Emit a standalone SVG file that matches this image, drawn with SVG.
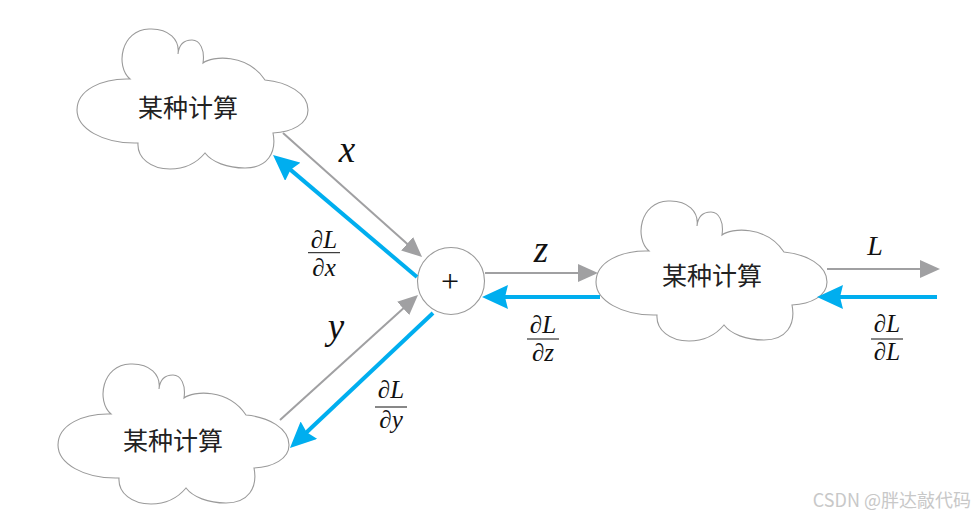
<svg xmlns="http://www.w3.org/2000/svg" xmlns:xlink="http://www.w3.org/1999/xlink" width="976" height="520" viewBox="0 0 976 520">
<style>
.cloud{fill:#fff;stroke:#9a9a9a;stroke-width:1.1}
.cjk{font-family:"Noto Sans CJK SC","Noto Sans CJK JP",sans-serif;font-size:25px;font-weight:400;fill:#222;text-anchor:middle}
.m{font-family:"Liberation Serif","DejaVu Serif",serif;fill:#111;text-anchor:middle}
.it{font-style:italic}
.fr{font-size:25px}
.bar{stroke:#111;stroke-width:1}
.g{stroke:#a0a0a2;stroke-width:2;fill:none;marker-end:url(#ag)}
.b{stroke:#00aeef;stroke-width:4;fill:none;marker-end:url(#ab)}
</style>
<defs>
<path id="cl" d="M53,51 C38,38 44,2 72,1 C92,0 103,12 101,26 C102,16 108,12 115,12 C123,12 128,22 126,35 C135,28 170,25 188,52 C210,54 231,65 231,82 C231,96 215,104 196,105 C200,125 190,140 168,140 C150,140 135,134 128,125 C118,137 104,141 93,141 C74,141 60,130 61,115 C25,116 0,100 0,82 C0,62 25,50 53,51 Z"/>
<marker id="ag" markerUnits="userSpaceOnUse" markerWidth="20" markerHeight="18" refX="6" refY="9" orient="auto" viewBox="0 0 20 18">
<path d="M0,0 L20,9 L0,18 Z" fill="#a0a0a2"/>
</marker>
<marker id="ab" markerUnits="userSpaceOnUse" markerWidth="26" markerHeight="24" refX="6" refY="12" orient="auto" viewBox="0 0 26 24">
<path d="M0,0 L26,12 L0,24 L3,12 Z" fill="#00aeef"/>
</marker>
</defs>

<g id="cloud1">
<use xlink:href="#cl" class="cloud" transform="translate(77,28)"/>
<text class="cjk" x="188" y="117">某种计算</text>
</g>
<g id="cloud2">
<use xlink:href="#cl" class="cloud" transform="translate(596,200)"/>
<text class="cjk" x="712" y="285">某种计算</text>
</g>
<g id="cloud3">
<use xlink:href="#cl" class="cloud" transform="translate(58,363)"/>
<text class="cjk" x="173" y="450">某种计算</text>
</g>
<g id="plus">
<circle cx="451" cy="281" r="33.5" fill="#fff" stroke="#9a9a9a" stroke-width="1.1"/>
<text class="m" x="450" y="292" font-size="32">+</text>
</g>

<g id="connectors">
<line class="g" x1="283" y1="133" x2="411.6" y2="247.7"/>
<line class="b" x1="417" y1="277" x2="288.3" y2="167.9"/>
<line class="g" x1="485" y1="273" x2="584" y2="273"/>
<line class="b" x1="600" y1="297" x2="502" y2="297"/>
<line class="g" x1="827" y1="269" x2="926" y2="269"/>
<line class="b" x1="937" y1="297" x2="837" y2="297"/>
<line class="g" x1="280" y1="420" x2="407.6" y2="304.4"/>
<line class="b" x1="433" y1="313" x2="304.5" y2="434.3"/>
</g>

<g id="labels">
<text class="m it" x="347" y="162" font-size="37">x</text>
<text class="m it" x="336" y="339" font-size="37">y</text>
<text class="m it" x="541" y="262" font-size="37">z</text>
<text class="m it" x="875" y="255" font-size="28">L</text>

<text class="m fr" x="324" y="248">∂<tspan class="it">L</tspan></text>
<line class="bar" x1="308" y1="252.7" x2="340" y2="252.7"/>
<text class="m fr" x="324" y="276">∂<tspan class="it">x</tspan></text>

<text class="m fr" x="543" y="333">∂<tspan class="it">L</tspan></text>
<line class="bar" x1="527" y1="339" x2="559" y2="339"/>
<text class="m fr" x="543" y="361">∂<tspan class="it">z</tspan></text>

<text class="m fr" x="887" y="332">∂<tspan class="it">L</tspan></text>
<line class="bar" x1="871" y1="339" x2="903" y2="339"/>
<text class="m fr" x="887" y="360">∂<tspan class="it">L</tspan></text>

<text class="m fr" x="391" y="398">∂<tspan class="it">L</tspan></text>
<line class="bar" x1="375" y1="407" x2="407" y2="407"/>
<text class="m fr" x="391" y="428">∂<tspan class="it">y</tspan></text>
</g>

<text x="971" y="507" font-family="Noto Sans CJK SC, sans-serif" font-size="18" fill="#c8c8c8" text-anchor="end">CSDN @胖达敲代码</text>
</svg>
